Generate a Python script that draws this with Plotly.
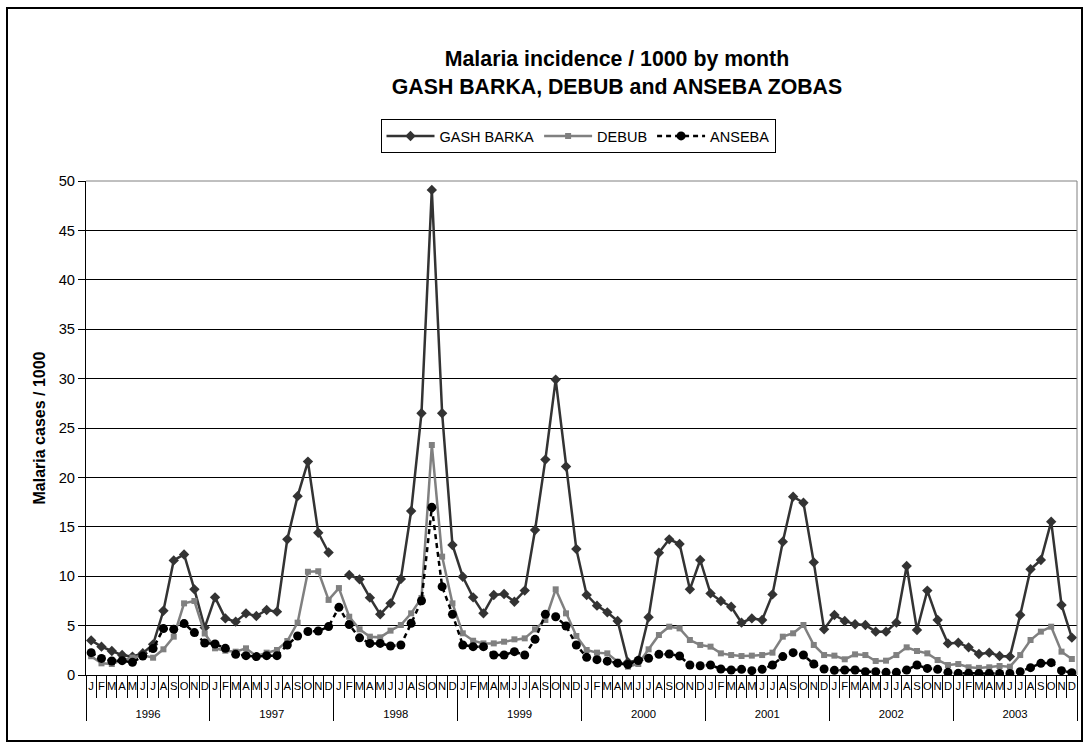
import plotly.graph_objects as go

years = ["1996", "1997", "1998", "1999", "2000", "2001", "2002", "2003"]
month_letters = ["J", "F", "M", "A", "M", "J", "J", "A", "S", "O", "N", "D"]

gash_barka = [
    3.5, 2.87, 2.43, 2.02, 1.86, 2.2, 3.1, 6.5, 11.6, 12.2, 8.67, 4.8,
    7.86, 5.73, 5.4, 6.24, 5.97, 6.58, 6.41, 13.73, 18.1, 21.6, 14.4, 12.4,
    None, 10.12, 9.68, 7.83, 6.14, 7.25, 9.72, 16.6, 26.5, 49.1, 26.5, 13.16,
    9.95, 7.86, 6.24, 8.1, 8.2, 7.42, 8.54, 14.68, 21.8, 29.9, 21.1, 12.75,
    8.1, 7.02, 6.34, 5.47, 1.3, 1.5, 5.84, 12.38, 13.73, 13.26, 8.67, 11.64,
    8.26, 7.49, 6.91, 5.3, 5.73, 5.57, 8.16, 13.49, 18.05, 17.44, 11.4, 4.62,
    6.07, 5.47, 5.13, 5.06, 4.39, 4.39, 5.3, 11.03, 4.55, 8.54, 5.57, 3.2,
    3.27, 2.8, 2.13, 2.26, 1.92, 1.86, 6.07, 10.7, 11.64, 15.52, 7.09, 3.78,
]
debub = [
    1.9, 1.18, 1.11, 1.5, 1.76, 2.0, 1.75, 2.6, 3.88, 7.25, 7.49, 4.2,
    2.7, 2.46, 2.36, 2.7, 1.92, 2.26, 2.53, 3.44, 5.3, 10.45, 10.5, 7.6,
    8.8, 5.9, 4.62, 3.88, 3.81, 4.49, 5.06, 6.24, 7.8, 23.28, 11.98, 7.25,
    4.22, 3.47, 3.2, 3.2, 3.37, 3.61, 3.71, 4.62, 5.57, 8.67, 6.24, 3.95,
    2.53, 2.26, 2.19, 1.35, 0.84, 1.11, 2.6, 4.05, 4.89, 4.72, 3.54, 3.04,
    2.87, 2.19, 2.02, 1.92, 1.96, 2.02, 2.26, 3.88, 4.22, 5.06, 3.04, 2.02,
    1.96, 1.59, 2.09, 2.02, 1.42, 1.45, 2.02, 2.8, 2.43, 2.19, 1.52, 1.01,
    1.11, 0.78, 0.72, 0.78, 0.91, 0.84, 2.02, 3.54, 4.39, 4.89, 2.36, 1.62,
]
anseba = [
    2.26, 1.68, 1.42, 1.45, 1.28, 1.92, 2.67, 4.7, 4.62, 5.2, 4.29, 3.24,
    3.14, 2.7, 2.09, 1.96, 1.86, 1.96, 1.96, 3.04, 3.95, 4.4, 4.45, 4.9,
    6.85, 5.1, 3.76, 3.2, 3.2, 2.94, 3.04, 5.23, 7.52, 16.97, 8.94, 6.14,
    3.04, 2.87, 2.87, 2.02, 2.02, 2.36, 2.02, 3.61, 6.14, 5.9, 4.96, 3.04,
    1.79, 1.55, 1.4, 1.2, 1.06, 1.47, 1.69, 2.09, 2.12, 1.92, 1.01, 0.94,
    1.01, 0.61, 0.51, 0.57, 0.44, 0.57, 1.01, 1.86, 2.26, 2.02, 1.11, 0.61,
    0.47, 0.51, 0.51, 0.34, 0.34, 0.27, 0.27, 0.51, 1.01, 0.67, 0.57, 0.27,
    0.17, 0.17, 0.15, 0.15, 0.15, 0.15, 0.34, 0.74, 1.18, 1.25, 0.44, 0.24,
]

# unique inner labels (repeated letters are made distinct with zero-width spaces)
seen = {}
month_keys = []
for m in month_letters:
    seen[m] = seen.get(m, 0) + 1
    month_keys.append(m + "\u200b" * (seen[m] - 1))

# outer labels pushed down one line to sit lower, as in the reference
year_keys = ["<br>" + y for y in years]

x_outer = [y for y in year_keys for _ in month_keys]
x_inner = [m for _ in year_keys for m in month_keys]
x = [x_outer, x_inner]
n_cat = len(x_inner)

FONT = "Arial, 'Liberation Sans', sans-serif"

fig = go.Figure()
fig.add_trace(go.Scatter(
    x=x, y=gash_barka, name="GASH BARKA", mode="lines+markers",
    line=dict(color="#333333", width=2.5),
    marker=dict(symbol="diamond", size=8, color="#333333"),
))
fig.add_trace(go.Scatter(
    x=x, y=debub, name="DEBUB", mode="lines+markers",
    line=dict(color="#808080", width=2.5),
    marker=dict(symbol="square", size=6, color="#808080"),
))
fig.add_trace(go.Scatter(
    x=x, y=anseba, name="ANSEBA", mode="lines+markers",
    line=dict(color="#000000", width=2.5, dash="5px,4px"),
    marker=dict(symbol="circle", size=9, color="#000000"),
))

W, H = 1087, 748
L, R, T, B = 86, 10, 181, 73
pw, ph = W - L - R, H - T - B

def px_x(v):
    return (v - L) / pw

def px_y(v):
    return (H - B - v) / ph

fig.update_layout(
    width=W, height=H,
    margin=dict(l=L, r=R, t=T, b=B),
    paper_bgcolor="white", plot_bgcolor="white",
    font=dict(family=FONT, color="#000000"),
    title=dict(
        text="<b>Malaria incidence / 1000 by month<br>GASH BARKA, DEBUB and ANSEBA ZOBAS</b>",
        x=617 / W, xanchor="center", y=1 - 66 / H, yanchor="middle",
        font=dict(size=21.3, family=FONT, color="#000000"),
    ),
    showlegend=True,
    legend=dict(
        orientation="h", x=px_x(578), xanchor="center", y=px_y(119), yanchor="top",
        bordercolor="#000000", borderwidth=1, bgcolor="white",
        font=dict(size=14.5, family=FONT), itemwidth=48, tracegroupgap=0,
    ),
    xaxis=dict(
        type="multicategory", range=[-0.5, n_cat - 0.5], autorange=False,
        showgrid=False, showline=True, linecolor="#000000", linewidth=1,
        ticks="outside", tickson="boundaries", ticklen=22, tickcolor="#000000",
        tickmode="linear", tick0=0, dtick=1, tickangle=0,
        tickfont=dict(size=11.3, family=FONT),
        showdividers=True, dividercolor="#000000", dividerwidth=1,
    ),
    yaxis=dict(
        range=[0, 50], dtick=5, tick0=0,
        showgrid=True, gridcolor="#000000", gridwidth=1,
        showline=True, linecolor="#000000", linewidth=1,
        ticks="outside", ticklen=7, tickcolor="#000000",
        tickfont=dict(size=14.7, family=FONT),
        zeroline=False,
        title=dict(text="<b>Malaria cases / 1000</b>", font=dict(size=16, family=FONT), standoff=9),
    ),
    shapes=[
        dict(type="rect", xref="paper", yref="paper",
             x0=px_x(7), x1=px_x(1082), y0=px_y(741), y1=px_y(8),
             line=dict(color="#000000", width=2), layer="below"),
        dict(type="line", xref="paper", yref="paper", x0=0, x1=1, y0=1, y1=1,
             line=dict(color="#808080", width=1), layer="above"),
        dict(type="line", xref="paper", yref="paper", x0=1, x1=1, y0=0, y1=1,
             line=dict(color="#808080", width=1), layer="above"),
    ],
)

fig.write_html("out.html", config={"displayModeBar": False},
               post_script="document.body.style.margin='0px';")
